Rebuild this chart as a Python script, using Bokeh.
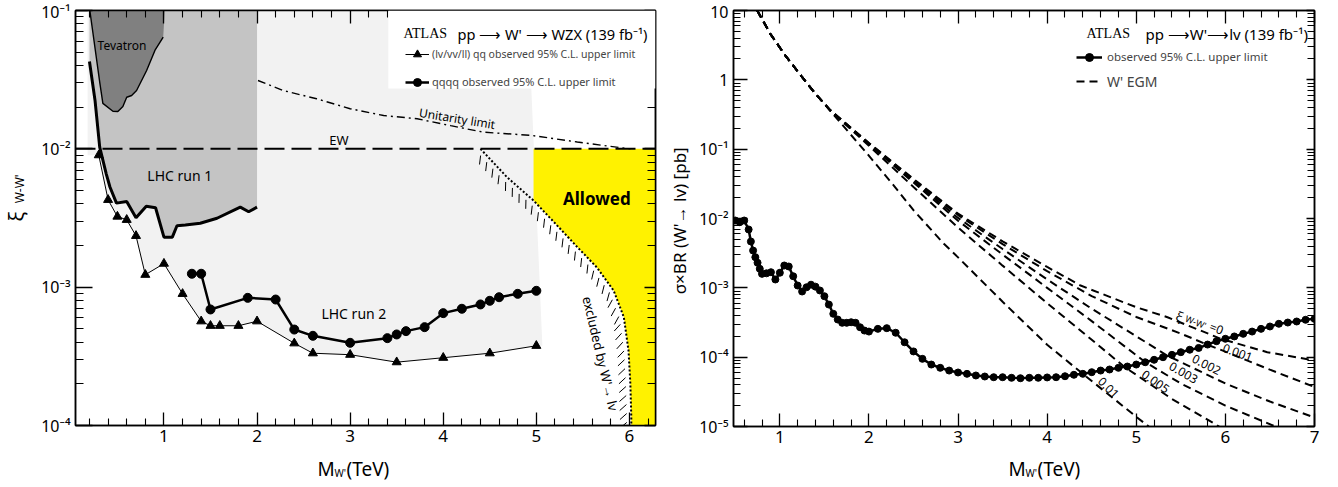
import numpy as np
from bokeh.plotting import figure
from bokeh.models import (FixedTicker, CustomJSTickFormatter, LinearAxis, LogAxis,
                          Label, Legend, LegendItem, BoxAnnotation, Span)
from bokeh.layouts import row, column
from bokeh.embed import file_html
from bokeh.resources import INLINE

FONT = "Noto Sans"
SERIF = "Liberation Serif"

# ======================= LEFT PANEL DATA =======================
XL0, XL1 = 0.05, 6.28
YL0, YL1 = 1e-4, 1e-1
EW = 1e-2

tev_m = [0.204, 0.312, 0.344, 0.452, 0.505, 0.559, 0.600, 0.653, 0.706, 0.814, 0.903, 0.992, 1.01]
tev_xi = [0.1, 2.97e-2, 2.13e-2, 1.87e-2, 1.86e-2, 2.02e-2, 2.36e-2, 2.43e-2, 2.64e-2, 3.68e-2, 5.14e-2, 6.41e-2, 0.1]

run1_m = [0.20, 0.26, 0.31, 0.38, 0.42, 0.49, 0.60, 0.70, 0.81, 0.91, 1.00, 1.09, 1.14, 1.23, 1.39, 1.57, 1.82, 1.91, 2.00]
run1_xi = [4.28e-2, 2.23e-2, 1.03e-2, 6.6e-3, 5.3e-3, 4.05e-3, 4.16e-3, 3.17e-3, 3.85e-3, 3.75e-3,
           2.30e-3, 2.30e-3, 2.78e-3, 2.81e-3, 2.90e-3, 3.15e-3, 3.79e-3, 3.51e-3, 3.79e-3]

lvqq_m = [0.3, 0.4, 0.5, 0.6, 0.7, 0.8, 1.0, 1.2, 1.4, 1.5, 1.6, 1.8, 2.0, 2.4, 2.6, 3.0, 3.5, 4.0, 4.5, 5.0]
lvqq_xi = [9.0e-3, 4.28e-3, 3.24e-3, 3.07e-3, 2.35e-3, 1.23e-3, 1.48e-3, 8.95e-4, 5.67e-4, 5.26e-4,
           5.26e-4, 5.26e-4, 5.67e-4, 3.93e-4, 3.33e-4, 3.25e-4, 2.87e-4, 3.09e-4, 3.33e-4, 3.77e-4]

qqqq_m = [1.3, 1.4, 1.5, 1.9, 2.2, 2.4, 2.6, 3.0, 3.4, 3.5, 3.6, 3.8, 4.0, 4.2, 4.4, 4.5, 4.6, 4.8, 5.0]
qqqq_xi = [1.25e-3, 1.25e-3, 6.90e-4, 8.37e-4, 8.14e-4, 4.94e-4, 4.45e-4, 3.96e-4, 4.28e-4, 4.55e-4,
           4.81e-4, 5.14e-4, 6.49e-4, 6.98e-4, 7.50e-4, 7.97e-4, 8.46e-4, 8.95e-4, 9.41e-4]

# upper-left corner and right edge of the "LHC run 2" shaded region
run2_left_m = 0.18
run2_edge_m = [4.91, 5.065]

uni_m = [2.01, 2.28, 2.64, 3.00, 3.36, 3.72, 4.08, 4.43, 4.95, 5.44, 5.90, 6.01]
uni_xi = [3.12e-2, 2.64e-2, 2.30e-2, 1.95e-2, 1.74e-2, 1.65e-2, 1.47e-2, 1.32e-2, 1.25e-2, 1.12e-2, 1.02e-2, 1.0e-2]

excl_m = [4.40, 4.685, 4.97, 5.19, 5.44, 5.65, 5.83, 5.94, 5.99, 6.01, 6.02, 6.02]
excl_xi = [1.0e-2, 6.24e-3, 4.23e-3, 2.95e-3, 1.95e-3, 1.39e-3, 9.46e-4, 6.07e-4, 3.48e-4, 2.00e-4, 1.15e-4, 1.0e-4]
allowed_left = 4.97

# ======================= RIGHT PANEL DATA =======================
XR0, XR1 = 0.48, 7.0
YR0, YR1 = 1e-5, 10.0

obs_m = [0.50, 0.55, 0.60, 0.65, 0.675, 0.70, 0.725, 0.75, 0.775, 0.80, 0.85, 0.90, 0.95, 1.00, 1.05,
         1.10, 1.15, 1.20, 1.25, 1.30, 1.35, 1.40, 1.45, 1.50, 1.55, 1.60, 1.65, 1.70, 1.75, 1.80,
         1.85, 1.90, 1.95, 2.0, 2.1, 2.2, 2.3, 2.4, 2.5, 2.6, 2.7, 2.8, 2.9, 3.0, 3.1, 3.2, 3.3, 3.4,
         3.5, 3.6, 3.7, 3.8, 3.9, 4.0, 4.1, 4.2, 4.3, 4.4, 4.5, 4.6, 4.7, 4.8, 4.9, 5.0, 5.1, 5.2,
         5.3, 5.4, 5.5, 5.6, 5.7, 5.8, 5.9, 6.0, 6.1, 6.2, 6.3, 6.4, 6.5, 6.6, 6.7, 6.8, 6.9, 7.0]
obs_sig = [9.35e-3, 8.85e-3, 9.35e-3, 6.94e-3, 4.66e-3, 3.45e-3, 2.77e-3, 2.30e-3, 1.88e-3, 1.59e-3,
           1.62e-3, 1.68e-3, 1.32e-3, 1.65e-3, 2.10e-3, 2.03e-3, 1.47e-3, 1.08e-3, 8.85e-4, 1.02e-3,
           1.11e-3, 1.04e-3, 9.15e-4, 7.57e-4, 5.74e-4, 4.22e-4, 3.49e-4, 3.13e-4, 3.13e-4, 3.19e-4,
           3.13e-4, 2.70e-4, 2.42e-4, 2.34e-4, 2.56e-4, 2.62e-4, 2.25e-4, 1.64e-4, 1.21e-4, 9.46e-5,
           7.83e-5, 7.02e-5, 6.41e-5, 6.01e-5, 5.75e-5, 5.44e-5, 5.26e-5, 5.14e-5, 5.14e-5, 5.04e-5,
           4.97e-5, 5.04e-5, 5.04e-5, 5.10e-5, 5.14e-5, 5.31e-5, 5.57e-5, 5.75e-5, 6.07e-5, 6.41e-5,
           6.64e-5, 7.02e-5, 7.33e-5, 7.83e-5, 8.45e-5, 9.16e-5, 9.98e-5, 1.08e-4, 1.18e-4, 1.28e-4,
           1.36e-4, 1.52e-4, 1.70e-4, 1.84e-4, 1.99e-4, 2.17e-4, 2.34e-4, 2.56e-4, 2.77e-4, 3.03e-4,
           3.16e-4, 3.27e-4, 3.46e-4, 3.57e-4]

egm_head_m = [0.746, 0.893, 1.062, 1.251, 1.40]
egm_head_sig = [10.0, 4.61, 2.24, 1.09, 0.63]

egm_xi0_m = [1.568, 2.0, 2.5, 3.0, 3.5, 4.0, 4.375, 5.0, 5.35, 5.95, 6.47, 7.0]
egm_xi0_sig = [0.363, 0.123, 0.0372, 0.01175, 4.68e-3, 2.0e-3, 1.08e-3, 5.25e-4, 3.77e-4, 1.84e-4, 1.18e-4, 8.95e-5]

egm_xi001_m = [1.568, 2.0, 2.5, 3.0, 3.5, 4.0, 4.5, 5.0, 5.5, 5.8, 6.0, 6.5, 7.0]
egm_xi001_sig = [0.363, 0.122, 0.0363, 0.0112, 4.27e-3, 1.74e-3, 7.6e-4, 3.8e-4, 2.19e-4, 1.51e-4, 1.2e-4, 6.6e-5, 3.72e-5]

egm_xi002_m = [1.568, 2.0, 2.5, 3.0, 3.5, 4.0, 4.5, 5.0, 5.35, 6.0, 6.5, 7.0]
egm_xi002_sig = [0.36, 0.120, 0.0347, 0.0102, 3.63e-3, 1.32e-3, 5.0e-4, 2.0e-4, 1.05e-4, 4.17e-5, 2.29e-5, 1.35e-5]

egm_xi003_m = [1.568, 2.0, 2.5, 3.0, 3.5, 4.0, 4.5, 5.1, 5.5, 6.0, 6.56]
egm_xi003_sig = [0.36, 0.117, 0.0330, 9.3e-3, 3.02e-3, 1.0e-3, 3.31e-4, 8.5e-5, 4.17e-5, 2.0e-5, 1.0e-5]

egm_xi005_m = [1.568, 2.0, 2.5, 3.0, 3.5, 4.0, 4.5, 4.87, 5.4, 5.93]
egm_xi005_sig = [0.358, 0.112, 0.0285, 7.4e-3, 2.09e-3, 6.0e-4, 1.78e-4, 7.2e-5, 2.5e-5, 1.0e-5]

egm_xi01_m = [1.568, 1.981, 2.279, 2.504, 2.841, 3.0, 3.5, 4.0, 4.4, 5.0, 5.14]
egm_xi01_sig = [0.355, 0.0857, 0.0299, 0.0130, 4.32e-3, 2.75e-3, 6.3e-4, 1.51e-4, 5.75e-5, 1.38e-5, 1.0e-5]

egm_labels = ["0.001", "0.002", "0.003", "0.005", "0.01"]
egm_label_m = [6.137, 5.789, 5.531, 5.217, 4.689]
egm_label_sig = [1.17e-4, 7.83e-5, 6.01e-5, 4.46e-5, 3.65e-5]
egm_label_deg = [-20, -27, -30, -35, -45]

# ======================= helpers =======================
LOG_FMT = """
const e = Math.round(Math.log10(tick));
if (e == 0) { return "1"; }
if (e == 1) { return "10"; }
const sup = {"-": "\u207b", "0": "\u2070", "1": "\u00b9", "2": "\u00b2", "3": "\u00b3",
             "4": "\u2074", "5": "\u2075", "6": "\u2076", "7": "\u2077", "8": "\u2078", "9": "\u2079"};
let s = "10";
for (const c of String(e)) { s += sup[c]; }
return s;
"""

H_MAIN = 449
H_XT = 487 - H_MAIN


def style_axis(ax, major, minor, show):
    ax.axis_line_color = "black"
    ax.axis_line_width = 1.5
    ax.major_tick_line_color = "black"
    ax.minor_tick_line_color = "black"
    ax.major_tick_line_width = 1.3
    ax.minor_tick_line_width = 1.1
    ax.major_tick_in = major
    ax.major_tick_out = 0
    ax.minor_tick_in = minor
    ax.minor_tick_out = 0
    if show:
        ax.major_label_text_font = FONT
        ax.major_label_text_color = "black"
        ax.major_label_standoff = 4
    else:
        ax.formatter = CustomJSTickFormatter(code="return '';")
        ax.major_label_text_color = None


def base_fig(width, xr, yr, bl, br, bt, bb):
    p = figure(width=width, height=H_MAIN, x_range=xr, y_range=yr, y_axis_type="log",
               output_backend="svg", toolbar_location=None,
               min_border_left=bl, min_border_right=br, min_border_top=bt, min_border_bottom=bb)
    p.grid.visible = False
    p.outline_line_color = "black"
    p.outline_line_width = 1.5
    p.background_fill_color = "white"
    p.border_fill_color = "white"
    return p


def text_fig(w, h):
    f = figure(width=w, height=h, x_range=(0, w), y_range=(0, h), output_backend="svg",
               toolbar_location=None, x_axis_location=None, y_axis_location=None, min_border=0)
    f.grid.visible = False
    f.outline_line_color = None
    f.background_fill_color = "white"
    f.border_fill_color = "white"
    return f


def add_frame_axes(p, xt, yt, xmaj, xmin_, ymaj, ymin_):
    p.xaxis.ticker = xt
    p.yaxis.ticker = yt
    style_axis(p.xaxis[0], xmaj, xmin_, True)
    style_axis(p.yaxis[0], ymaj, ymin_, True)
    p.xaxis[0].major_label_text_font_size = "17px"
    p.yaxis[0].major_label_text_font_size = "16px"
    p.yaxis[0].major_label_standoff = 5
    p.yaxis[0].formatter = CustomJSTickFormatter(code=LOG_FMT)
    top = LinearAxis(ticker=xt)
    style_axis(top, xmaj, xmin_, False)
    p.add_layout(top, "above")
    right = LogAxis(ticker=yt)
    style_axis(right, ymaj - 6, ymin_, False)
    p.add_layout(right, "right")


def lbl(p, x, y, text, size, units="data", angle=0.0, align="center", font=FONT, style="normal",
        baseline="middle"):
    p.add_layout(Label(x=x, y=y, x_units=units, y_units=units, text=text, angle=angle,
                       text_font=font, text_font_size=size, text_font_style=style,
                       text_align=align, text_baseline=baseline, text_color="black"))


# ======================= LEFT FIGURE =======================
p1 = base_fig(629, (XL0, XL1), (YL0, YL1), 39, 10, 10, H_MAIN - 425)

x_major_l = [1, 2, 3, 4, 5, 6]
x_minor_l = [round(0.2 * i, 1) for i in range(1, 32) if i % 5 != 0]
y_major_l = [1e-4, 1e-3, 1e-2, 1e-1]
y_minor_l = [k * 10.0 ** e for e in range(-4, -1) for k in range(2, 10)]
add_frame_axes(p1, FixedTicker(ticks=x_major_l, minor_ticks=x_minor_l),
               FixedTicker(ticks=y_major_l, minor_ticks=y_minor_l), 13, 7, 17, 8)

# shaded regions
lg_x = [run2_left_m, run2_edge_m[0], run2_edge_m[1]] + lvqq_m[::-1] + [run2_left_m]
lg_y = [YL1, YL1, lvqq_xi[-1]] + lvqq_xi[::-1] + [lvqq_xi[0]]
p1.patch(lg_x, lg_y, fill_color="#f2f2f2", line_color=None)

r1_x = [run1_m[0], run1_m[-1]] + run1_m[::-1]
r1_y = [YL1, YL1] + run1_xi[::-1]
p1.patch(r1_x, r1_y, fill_color="#c4c4c4", line_color=None)

p1.patch(tev_m, tev_xi, fill_color="#808080", line_color=None)

em = np.array(excl_m)
ex = np.array(excl_xi)
mask = em >= allowed_left
yel_x = [allowed_left, XL1, XL1] + list(em[mask][::-1])
yel_y = [EW, EW, YL0] + list(ex[mask][::-1])
p1.patch(yel_x, yel_y, fill_color="#fff200", line_color=None)

# hatching along the W'->lv exclusion contour (on the excluded side)
sxp = 580.0 / (XL1 - XL0)
syp = 415.0 / 3.0
px = em * sxp
py = -np.log10(ex) * syp
s = np.r_[0.0, np.cumsum(np.hypot(np.diff(px), np.diff(py)))]
ss = np.arange(5.0, s[-1] - 3.0, 9.0)
qx = np.interp(ss, s, px)
qy = np.interp(ss, s, py)
tx = np.interp(ss + 1, s, px) - np.interp(ss - 1, s, px)
ty = np.interp(ss + 1, s, py) - np.interp(ss - 1, s, py)
nn = np.hypot(tx, ty)
tx, ty = tx / nn, ty / nn
nx, ny = -ty, tx
a = np.deg2rad(-40)
dx = nx * np.cos(a) - ny * np.sin(a)
dy = nx * np.sin(a) + ny * np.cos(a)
hx0, hy0 = qx + 4.5 * nx, qy + 4.5 * ny
hx1, hy1 = hx0 + 9 * dx, hy0 + 9 * dy
p1.segment(hx0 / sxp, 10 ** (-hy0 / syp), hx1 / sxp, 10 ** (-hy1 / syp), line_color="black", line_width=1.0)

# curves
p1.line(tev_m[:-1], tev_xi[:-1], line_color="black", line_width=1.4)
p1.line(run1_m, run1_xi, line_color="black", line_width=3)
r_lv_l = p1.line(lvqq_m, lvqq_xi, line_color="black", line_width=1)
r_lv_s = p1.scatter(lvqq_m, lvqq_xi, marker="triangle", size=9, fill_color="black", line_color="black")
r_qq_l = p1.line(qqqq_m, qqqq_xi, line_color="black", line_width=2.5)
r_qq_s = p1.scatter(qqqq_m, qqqq_xi, marker="circle", size=9, fill_color="black", line_color="black")
p1.line(uni_m, uni_xi, line_color="black", line_width=1.4, line_dash="8 4 2 4")
p1.line(excl_m, excl_xi, line_color="black", line_width=2, line_dash="2 2")
p1.add_layout(Span(location=EW, dimension="width", line_color="black", line_width=2, line_dash="20 7"))

# legend box (white) + legend
p1.add_layout(BoxAnnotation(left=3.41, bottom=2.73e-2, fill_color="white", fill_alpha=1.0, line_color=None))
for items, vy, fsize in ([LegendItem(label="(lv/vv/ll) qq observed 95% C.L. upper limit",
                                     renderers=[r_lv_l, r_lv_s])], 360.7, "10.5px"), \
                         ([LegendItem(label="qqqq observed 95% C.L. upper limit",
                                      renderers=[r_qq_l, r_qq_s])], 333.3, "11px"):
    p1.add_layout(Legend(items=items, location=(330, vy), background_fill_alpha=0, border_line_color=None,
                         padding=0, margin=0, spacing=0, glyph_width=24, glyph_height=20, label_height=20,
                         label_standoff=3, label_text_font=FONT, label_text_font_size=fsize))

lbl(p1, 328, 392, "ATLAS", "14px", units="screen", align="left", font=SERIF)
lbl(p1, 382, 392, "pp \u27f6 W' \u27f6 WZX (139 fb\u207b\u00b9)", "14.6px", units="screen", align="left")

# in-plot texts
lbl(p1, 0.55, 0.0558, "Tevatron", "12px")
lbl(p1, 1.17, 6.4e-3, "LHC run 1", "14px")
lbl(p1, 3.04, 6.41e-4, "LHC run 2", "14px")
lbl(p1, 2.88, 1.168e-2, "EW", "13px")
lbl(p1, 4.15, 1.656e-2, "Unitarity limit", "12px", angle=-0.16)
lbl(p1, 5.65, 4.41e-3, "Allowed", "17px", style="bold")
lbl(p1, 5.69, 3.31e-4, "excluded by W'\u2192 lv", "13px", angle=-1.34)

# ======================= RIGHT FIGURE =======================
p2 = base_fig(645, (XR0, XR1), (YR0, YR1), 40, 24, 10, H_MAIN - 426)
x_major_r = [1, 2, 3, 4, 5, 6, 7]
x_minor_r = [round(0.2 * i, 1) for i in range(3, 35) if i % 5 != 0]
y_major_r = [1e-5, 1e-4, 1e-3, 1e-2, 1e-1, 1.0, 10.0]
y_minor_r = [k * 10.0 ** e for e in range(-5, 1) for k in range(2, 10)]
add_frame_axes(p2, FixedTicker(ticks=x_major_r, minor_ticks=x_minor_r),
               FixedTicker(ticks=y_major_r, minor_ticks=y_minor_r), 13, 7, 14, 7)

egm_sets = [(egm_xi0_m, egm_xi0_sig), (egm_xi001_m, egm_xi001_sig), (egm_xi002_m, egm_xi002_sig),
            (egm_xi003_m, egm_xi003_sig), (egm_xi005_m, egm_xi005_sig), (egm_xi01_m, egm_xi01_sig)]
egm_r = []
for mm, sg in egm_sets:
    egm_r.append(p2.line(egm_head_m + mm, egm_head_sig + sg, line_color="black", line_width=2, line_dash="8 5"))

r_obs_l = p2.line(obs_m, obs_sig, line_color="black", line_width=2.5)
r_obs_s = p2.scatter(obs_m, obs_sig, marker="circle", size=7, fill_color="black", line_color="black")

p2.add_layout(Legend(items=[LegendItem(label="observed 95% C.L. upper limit", renderers=[r_obs_l, r_obs_s])],
                     location=(343, 359.3), background_fill_alpha=0, border_line_color=None, padding=0, margin=0,
                     spacing=0, glyph_width=26, glyph_height=20, label_height=20, label_standoff=5,
                     label_text_font=FONT, label_text_font_size="11.5px"))
p2.add_layout(Legend(items=[LegendItem(label="W' EGM", renderers=[egm_r[0]])],
                     location=(343, 335), background_fill_alpha=0, border_line_color=None, padding=0, margin=0,
                     spacing=0, glyph_width=26, glyph_height=20, label_height=20, label_standoff=5,
                     label_text_font=FONT, label_text_font_size="14px"))

lbl(p2, 353, 393, "ATLAS", "14px", units="screen", align="left", font=SERIF)
lbl(p2, 412, 393, "pp \u27f6W'\u27f6lv (139 fb\u207b\u00b9)", "15px", units="screen", align="left")

lbl(p2, 5.486, 3.88e-4, "\u03be", "13px", angle=np.deg2rad(-21))
lbl(p2, 5.668, 3.22e-4, "W-W'", "9px", angle=np.deg2rad(-21))
lbl(p2, 5.901, 2.60e-4, "=0", "12px", angle=np.deg2rad(-21))
for t, xm, ys, dg in zip(egm_labels, egm_label_m, egm_label_sig, egm_label_deg):
    lbl(p2, xm, ys, t, "12px", angle=np.deg2rad(dg))

# ======================= AXIS TITLE STRIPS =======================
XT_MID = H_XT / 2.0
yl1 = text_fig(36, H_MAIN)
lbl(yl1, 15, H_MAIN - 223, "\u03be", "20px", angle=np.pi / 2)
lbl(yl1, 19, H_MAIN - 193, "W-W'", "12px", angle=np.pi / 2)

xl1 = text_fig(665, H_XT)
lbl(xl1, 317, XT_MID, "M", "19px", align="left")
lbl(xl1, 334, XT_MID - 4, "W'", "10px", align="left")
lbl(xl1, 346, XT_MID, "(TeV)", "19px", align="left")

yl2 = text_fig(28, H_MAIN)
lbl(yl2, 14, H_MAIN - 227, "\u03c3\u00d7BR (W'\u2192 lv) [pb]", "17px", angle=np.pi / 2)

xl2 = text_fig(673, H_XT)
lbl(xl2, 343, XT_MID, "M", "19px", align="left")
lbl(xl2, 360, XT_MID - 4, "W'", "10px", align="left")
lbl(xl2, 372, XT_MID, "(TeV)", "19px", align="left")

layout = row(column(row(yl1, p1), xl1), column(row(yl2, p2), xl2))
open("out.html", "w").write(file_html(layout, INLINE))
